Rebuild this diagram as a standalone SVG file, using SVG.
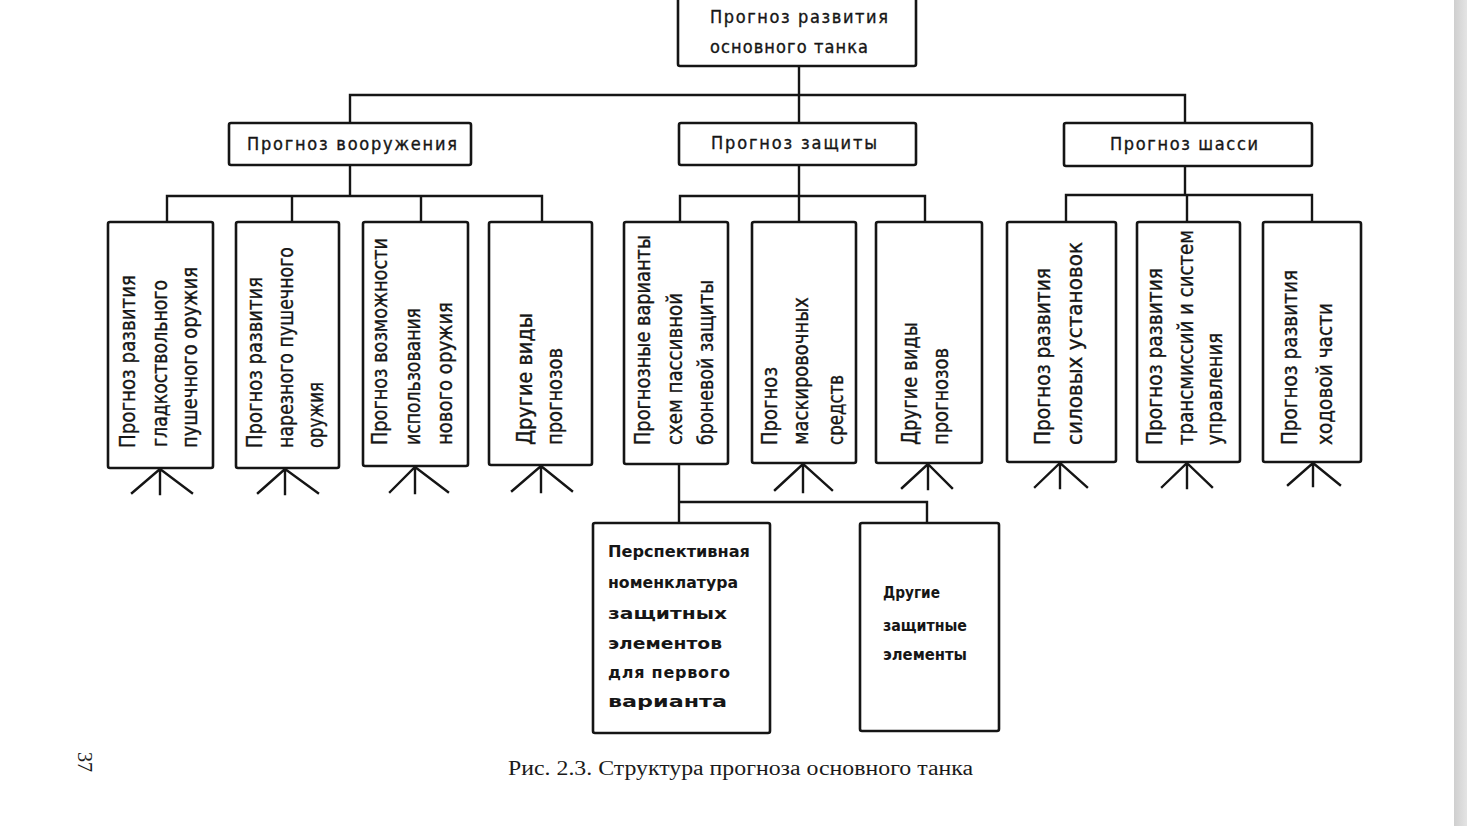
<svg xmlns="http://www.w3.org/2000/svg" width="1467" height="826" viewBox="0 0 1467 826">
<defs>
<linearGradient id="edge" x1="0" y1="0" x2="1" y2="0">
<stop offset="0" stop-color="#cfcfcf"/>
<stop offset="1" stop-color="#e4e4e4"/>
</linearGradient>
<style>
.box{fill:#fff;stroke:#151515;stroke-width:2.6;}
.ln{fill:none;stroke:#151515;stroke-width:2.4;stroke-linecap:square;}
.t{font-family:"DejaVu Sans Condensed","DejaVu Sans","Liberation Sans",sans-serif;font-stretch:condensed;font-size:18px;fill:#161616;stroke:#161616;stroke-width:0.35;}
.v{font-family:"DejaVu Sans Condensed","DejaVu Sans","Liberation Sans",sans-serif;font-stretch:condensed;font-size:21px;fill:#161616;stroke:#161616;stroke-width:0.35;}
.b{font-family:"DejaVu Sans","Liberation Sans",sans-serif;font-size:16px;font-weight:bold;fill:#161616;}
.cap{font-family:"Liberation Serif","DejaVu Serif",serif;font-size:20px;fill:#1a1a1a;}
</style>
</defs>
<rect x="0" y="0" width="1467" height="826" fill="#fff"/>
<rect x="1454" y="0" width="13" height="826" fill="url(#edge)"/>

<g id="connectors">
<path class="ln" d="M799 66V123 M350 95H1185 M350 95V123 M1185 95V123"/>
<path class="ln" d="M350 165V196 M167 196H542 M167 196V222 M292 196V222 M421 196V222 M542 196V222"/>
<path class="ln" d="M799 165V196 M680 196H925 M680 196V222 M799 196V222 M925 196V222"/>
<path class="ln" d="M1185 166V195 M1066 195H1312 M1066 195V222 M1187 195V222 M1312 195V222"/>
<path class="ln" d="M679 464V523 M679 502H927 M927 502V523"/>
<path class="ln" d="M160 469V494 M160 469L132 493 M160 469L192 493"/>
<path class="ln" d="M285 469V494 M285 469L258 493 M285 469L318 493"/>
<path class="ln" d="M415 467V493 M415 467L390 492 M415 467L448 492"/>
<path class="ln" d="M541 466V492 M541 466L512 491 M541 466L572 491"/>
<path class="ln" d="M803 464V492 M803 464L775 490 M803 464L832 490"/>
<path class="ln" d="M928 464V489 M928 464L902 488 M928 464L952 488"/>
<path class="ln" d="M1060 463V488 M1060 463L1035 487 M1060 463L1087 487"/>
<path class="ln" d="M1187 463V488 M1187 463L1162 487 M1187 463L1212 487"/>
<path class="ln" d="M1313 463V486 M1313 463L1288 485 M1313 463L1340 485"/>
</g>

<g id="n-tank">
<rect class="box" x="678" y="-3" width="238" height="69" rx="2"/>
<text class="t" x="710" y="23" textLength="178" lengthAdjust="spacing">Прогноз  развития</text>
<text class="t" x="710" y="53" textLength="158" lengthAdjust="spacing">основного танка</text>
</g>

<g id="n-weapons">
<rect class="box" x="229" y="123" width="242" height="42" rx="2"/>
<text class="t" x="247" y="150" textLength="210" lengthAdjust="spacing">Прогноз  вооружения</text>
</g>
<g id="n-protection">
<rect class="box" x="679" y="123" width="237" height="42" rx="2"/>
<text class="t" x="711" y="149" textLength="166" lengthAdjust="spacing">Прогноз  защиты</text>
</g>
<g id="n-chassis">
<rect class="box" x="1064" y="123" width="248" height="43" rx="2"/>
<text class="t" x="1110" y="150" textLength="148" lengthAdjust="spacing">Прогноз   шасси</text>
</g>

<g id="n-w1">
<rect class="box" x="108" y="222" width="105" height="246" rx="2"/>
<text class="v" transform="translate(135 448) rotate(-90)" textLength="173" lengthAdjust="spacingAndGlyphs">Прогноз развития</text>
<text class="v" transform="translate(167 447) rotate(-90)" textLength="167" lengthAdjust="spacingAndGlyphs">гладкоствольного</text>
<text class="v" transform="translate(197 448) rotate(-90)" textLength="181" lengthAdjust="spacingAndGlyphs">пушечного оружия</text>
</g>
<g id="n-w2">
<rect class="box" x="236" y="222" width="103" height="246" rx="2"/>
<text class="v" transform="translate(262 448) rotate(-90)" textLength="171" lengthAdjust="spacingAndGlyphs">Прогноз развития</text>
<text class="v" transform="translate(293 448) rotate(-90)" textLength="201" lengthAdjust="spacingAndGlyphs">нарезного пушечного</text>
<text class="v" transform="translate(323 448) rotate(-90)" textLength="66" lengthAdjust="spacingAndGlyphs">оружия</text>
</g>
<g id="n-w3">
<rect class="box" x="363" y="222" width="105" height="244" rx="2"/>
<text class="v" transform="translate(387 445) rotate(-90)" textLength="207" lengthAdjust="spacingAndGlyphs">Прогноз возможности</text>
<text class="v" transform="translate(420 445) rotate(-90)" textLength="137" lengthAdjust="spacingAndGlyphs">использования</text>
<text class="v" transform="translate(452 445) rotate(-90)" textLength="143" lengthAdjust="spacingAndGlyphs">нового оружия</text>
</g>
<g id="n-w4">
<rect class="box" x="489" y="222" width="103" height="243" rx="2"/>
<text class="v" transform="translate(532 445) rotate(-90)" textLength="132" lengthAdjust="spacingAndGlyphs">Другие  виды</text>
<text class="v" transform="translate(562 445) rotate(-90)" textLength="97" lengthAdjust="spacingAndGlyphs">прогнозов</text>
</g>

<g id="n-p1">
<rect class="box" x="624" y="222" width="104" height="242" rx="2"/>
<text class="v" transform="translate(650 445) rotate(-90)" textLength="210" lengthAdjust="spacingAndGlyphs">Прогнозные варианты</text>
<text class="v" transform="translate(682 445) rotate(-90)" textLength="152" lengthAdjust="spacingAndGlyphs">схем  пассивной</text>
<text class="v" transform="translate(713 445) rotate(-90)" textLength="165" lengthAdjust="spacingAndGlyphs">броневой защиты</text>
</g>
<g id="n-p2">
<rect class="box" x="752" y="222" width="104" height="241" rx="2"/>
<text class="v" transform="translate(777 445) rotate(-90)" textLength="78" lengthAdjust="spacingAndGlyphs">Прогноз</text>
<text class="v" transform="translate(808 445) rotate(-90)" textLength="148" lengthAdjust="spacingAndGlyphs">маскировочных</text>
<text class="v" transform="translate(843 445) rotate(-90)" textLength="70" lengthAdjust="spacingAndGlyphs">средств</text>
</g>
<g id="n-p3">
<rect class="box" x="876" y="222" width="106" height="241" rx="2"/>
<text class="v" transform="translate(917 445) rotate(-90)" textLength="123" lengthAdjust="spacingAndGlyphs">Другие  виды</text>
<text class="v" transform="translate(948 445) rotate(-90)" textLength="97" lengthAdjust="spacingAndGlyphs">прогнозов</text>
</g>

<g id="n-c1">
<rect class="box" x="1007" y="222" width="109" height="240" rx="2"/>
<text class="v" transform="translate(1050 445) rotate(-90)" textLength="177" lengthAdjust="spacingAndGlyphs">Прогноз  развития</text>
<text class="v" transform="translate(1082 445) rotate(-90)" textLength="203" lengthAdjust="spacingAndGlyphs">силовых установок</text>
</g>
<g id="n-c2">
<rect class="box" x="1137" y="222" width="103" height="240" rx="2"/>
<text class="v" transform="translate(1162 445) rotate(-90)" textLength="177" lengthAdjust="spacingAndGlyphs">Прогноз  развития</text>
<text class="v" transform="translate(1193 445) rotate(-90)" textLength="215" lengthAdjust="spacingAndGlyphs">трансмиссий и систем</text>
<text class="v" transform="translate(1222 445) rotate(-90)" textLength="112" lengthAdjust="spacingAndGlyphs">управления</text>
</g>
<g id="n-c3">
<rect class="box" x="1263" y="222" width="98" height="240" rx="2"/>
<text class="v" transform="translate(1297 445) rotate(-90)" textLength="175" lengthAdjust="spacingAndGlyphs">Прогноз  развития</text>
<text class="v" transform="translate(1332 445) rotate(-90)" textLength="142" lengthAdjust="spacingAndGlyphs">ходовой части</text>
</g>

<g id="n-b1">
<rect class="box" x="593" y="523" width="177" height="210" rx="2"/>
<text class="b" x="608" y="557" textLength="142" lengthAdjust="spacingAndGlyphs">Перспективная</text>
<text class="b" x="608" y="588" textLength="130" lengthAdjust="spacingAndGlyphs">номенклатура</text>
<text class="b" x="608" y="619" textLength="119" lengthAdjust="spacingAndGlyphs">защитных</text>
<text class="b" x="608" y="649" textLength="114" lengthAdjust="spacingAndGlyphs">элементов</text>
<text class="b" x="608" y="678" textLength="122" lengthAdjust="spacing">для  первого</text>
<text class="b" x="608" y="707" textLength="119" lengthAdjust="spacingAndGlyphs">варианта</text>
</g>
<g id="n-b2">
<rect class="box" x="860" y="523" width="139" height="208" rx="2"/>
<text class="b" x="883" y="598" textLength="57" lengthAdjust="spacingAndGlyphs">Другие</text>
<text class="b" x="883" y="631" textLength="84" lengthAdjust="spacingAndGlyphs">защитные</text>
<text class="b" x="883" y="660" textLength="84" lengthAdjust="spacingAndGlyphs">элементы</text>
</g>

<text class="cap" x="508" y="775" textLength="465" lengthAdjust="spacingAndGlyphs">Рис. 2.3. Структура прогноза основного танка</text>
<text class="cap" transform="translate(78 752) rotate(90)" style="font-size:20px">37</text>
</svg>
